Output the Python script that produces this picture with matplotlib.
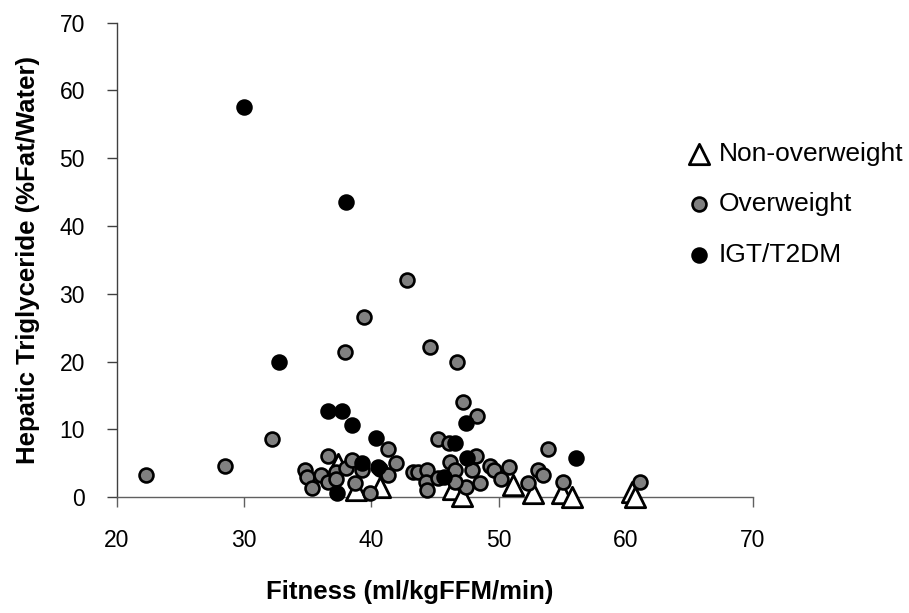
import matplotlib
matplotlib.use('Agg')
from matplotlib import pyplot as plt

plt.rcParams['font.family'] = ['Liberation Sans', 'DejaVu Sans']

# Non-overweight (open triangles)
nonow_x = [37.4, 38.8, 40.7, 46.4, 47.1, 51.1, 52.7, 55.0, 55.8, 60.5, 60.7]
nonow_y = [4.8, 1.0, 1.5, 1.2, 0.2, 1.8, 0.6, 0.6, 0.0, 0.7, 0.0]

# Overweight (grey circles)
ow_x = [22.3, 28.5, 32.2, 37.9, 39.4, 42.8, 44.6, 46.7, 47.2, 48.3,
        45.2, 46.1, 41.3, 36.6, 34.8, 34.9, 35.3, 36.0, 36.6, 37.2,
        37.2, 38.0, 38.5, 39.3, 40.7, 41.9, 41.3, 38.7, 39.9, 43.3,
        43.7, 44.4, 44.3, 44.4, 45.2, 46.2, 46.6, 48.2, 47.9, 47.4,
        46.6, 48.5, 49.3, 49.6, 50.2, 50.8, 52.3, 53.1, 53.5, 53.9,
        55.1, 61.1]
ow_y = [3.3, 4.6, 8.5, 21.4, 26.5, 32.1, 22.1, 19.9, 14.0, 12.0,
        8.5, 7.9, 7.1, 6.1, 4.0, 2.9, 1.3, 3.2, 2.2, 3.7,
        2.6, 4.3, 5.4, 4.0, 4.1, 5.0, 3.2, 2.0, 0.6, 3.7,
        3.7, 4.0, 2.2, 1.0, 2.8, 5.2, 4.0, 6.0, 4.0, 1.5,
        2.2, 2.0, 4.6, 4.0, 2.7, 4.4, 2.1, 4.0, 3.2, 7.1,
        2.2, 2.2]

# IGT/T2DM (black circles)
igt_x = [30.0, 38.0, 32.7, 36.6, 37.7, 38.5, 40.4, 39.3, 40.5, 37.3,
         45.7, 46.6, 47.4, 47.5, 56.1]
igt_y = [57.5, 43.6, 20.0, 12.7, 12.7, 10.6, 8.7, 5.0, 4.4, 0.6,
         3.0, 7.9, 10.9, 5.7, 5.7]

x_ticks = [20, 30, 40, 50, 60, 70]
y_ticks = [0, 10, 20, 30, 40, 50, 60, 70]

fig = plt.figure(figsize=(9.09, 6.13), dpi=100)
ax = fig.add_axes([0.1287, 0.1892, 0.6997, 0.7737])

ax.scatter(nonow_x, nonow_y, marker='^', s=215, facecolor='white',
           edgecolor='black', linewidth=2.0, label='Non-overweight', zorder=3, clip_on=False)
ax.scatter(ow_x, ow_y, marker='o', s=100, facecolor='#808080',
           edgecolor='black', linewidth=1.9, label='Overweight', zorder=4, clip_on=False)
ax.scatter(igt_x, igt_y, marker='o', s=100, facecolor='black',
           edgecolor='black', linewidth=1.9, label='IGT/T2DM', zorder=5, clip_on=False)

ax.set_xlim(20, 70)
ax.set_ylim(0, 70)
ax.set_xticks(x_ticks)
ax.set_yticks(y_ticks)

ax.spines['top'].set_visible(False)
ax.spines['right'].set_visible(False)
ax.spines['left'].set_color('#404040')
ax.spines['bottom'].set_color('#606060')
ax.spines['left'].set_linewidth(1.0)
ax.spines['bottom'].set_linewidth(1.0)
ax.tick_params(axis='x', direction='out', length=7, width=1.0, color='#606060',
               pad=16, labelsize=16.5)
ax.tick_params(axis='y', direction='out', length=7, width=1.0, color='#404040',
               pad=16, labelsize=16.5)

ax.set_xlabel('Fitness (ml/kgFFM/min)', fontsize=18.5, fontweight='bold')
ax.set_ylabel('Hepatic Triglyceride (%Fat/Water)', fontsize=18.5, fontweight='bold')
ax.xaxis.set_label_coords(0.46, -0.175)
ax.yaxis.set_label_coords(-0.121, 0.5)

ax.legend(loc='upper left', bbox_to_anchor=(685.5 / 909, 1 - 142 / 613),
          bbox_transform=fig.transFigure, frameon=False, fontsize=19,
          handlelength=1.0, handletextpad=0.25, labelspacing=1.0,
          borderpad=0, borderaxespad=0)

fig.savefig('out.png', dpi=100)
